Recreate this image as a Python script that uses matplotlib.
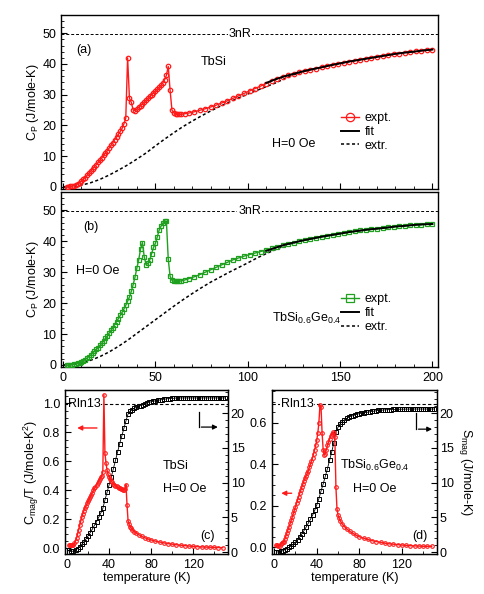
import matplotlib
matplotlib.use("Agg")
import matplotlib.pyplot as plt
from matplotlib.ticker import MultipleLocator

plt.rcParams["font.family"] = ["Liberation Sans", "DejaVu Sans"]
plt.rcParams["font.size"] = 9
plt.rcParams["mathtext.default"] = "regular"

# ---------------- data ----------------
# (a) TbSi, Cp vs T
T_a = [2, 3, 4, 5, 6, 7, 8, 9, 10, 11, 12, 13, 14, 15, 16, 17, 18, 19, 20, 21, 22, 23, 24, 25,
       26, 27, 28, 29, 30, 31, 32, 33, 34, 35, 36, 37, 38, 39, 40, 41, 42, 43, 44, 45, 46, 47,
       48, 49, 50, 51, 52, 53, 54, 55, 56, 57, 58, 59, 60, 61, 62, 63, 64, 66, 68, 71, 74, 77,
       80, 83, 86, 89, 92, 95, 98, 101, 104, 107, 110, 113, 116, 119, 122, 125, 128, 131, 134,
       137, 140, 143, 146, 149, 152, 155, 158, 161, 164, 167, 170, 173, 176, 179, 182, 185,
       188, 191, 194, 197, 200]
Cp_a = [0.0, 0.0, 0.1, 0.2, 0.4, 0.6, 0.9, 1.3, 1.8, 2.4, 3.0, 3.7, 4.4, 5.1, 5.8, 6.5, 7.2,
        7.9, 8.6, 9.4, 10.2, 11.0, 11.8, 12.6, 13.5, 14.4, 15.3, 16.2, 17.1, 18.0, 19.0, 20.5,
        22.3, 42.0, 28.8, 27.5, 25.0, 24.8, 25.3, 25.9, 26.4, 27.0, 27.6, 28.2, 28.8, 29.4,
        30.0, 30.6, 31.2, 31.8, 32.4, 33.0, 33.8, 34.8, 36.3, 39.2, 31.4, 25.0, 24.1, 23.8,
        23.6, 23.6, 23.6, 23.8, 24.0, 24.4, 24.9, 25.4, 26.0, 26.6, 27.3, 28.0, 28.8, 29.6,
        30.4, 31.2, 32.0, 32.8, 33.6, 34.5, 35.2, 35.8, 36.3, 36.8, 37.3, 37.7, 38.1, 38.5,
        38.9, 39.3, 39.7, 40.1, 40.4, 40.8, 41.1, 41.4, 41.7, 42.0, 42.3, 42.6, 42.9, 43.2,
        43.4, 43.7, 43.9, 44.1, 44.3, 44.5, 44.7]
Tfit = [110, 115, 120, 125, 130, 135, 140, 145, 150, 155, 160, 165, 170, 175, 180, 185, 190,
        195, 200]
fit_a = [33.8, 35.0, 36.0, 36.8, 37.6, 38.3, 38.9, 39.6, 40.2, 40.8, 41.3, 41.8, 42.3, 42.8,
         43.3, 43.7, 44.0, 44.4, 44.7]
Text = [0, 5, 10, 15, 20, 25, 30, 35, 40, 45, 50, 55, 60, 65, 70, 75, 80, 85, 90, 95, 100,
        105, 110, 115, 120, 125, 130, 135, 140, 145, 150, 155, 160, 165, 170, 175, 180, 185,
        190, 195, 200]
extr_a = [0.0, 0.1, 0.5, 1.3, 2.4, 3.8, 5.4, 7.1, 9.0, 11.0, 13.3, 15.5, 17.6, 19.6, 21.4,
          23.1, 24.7, 26.2, 27.6, 28.9, 30.2, 31.4, 32.6, 33.8, 35.2, 36.5, 37.5, 38.3, 38.9,
          39.6, 40.2, 40.8, 41.3, 41.8, 42.3, 42.8, 43.3, 43.7, 44.0, 44.4, 44.7]

# (b) TbSi0.6Ge0.4, Cp vs T
T_b = T_a
Cp_b = [0.0, 0.0, 0.1, 0.1, 0.2, 0.3, 0.5, 0.7, 1.0, 1.3, 1.7, 2.2, 2.7, 3.2, 3.8, 4.4, 5.0,
        5.6, 6.3, 7.0, 7.8, 8.6, 9.4, 10.3, 11.2, 12.1, 13.0, 14.0, 15.0, 16.0, 17.0, 18.1,
        19.3, 20.6, 22.0, 23.8, 26.0, 28.4, 31.3, 34.0, 37.5, 39.6, 35.0, 32.4, 32.9, 34.0,
        36.0, 38.0, 39.3, 41.3, 43.5, 44.8, 45.8, 46.6, 46.5, 34.2, 28.7, 27.4, 27.1, 27.0,
        27.0, 27.1, 27.2, 27.5, 27.9, 28.5, 29.2, 30.0, 30.8, 31.6, 32.4, 33.2, 34.0, 34.6,
        35.2, 35.7, 36.2, 36.7, 37.2, 37.7, 38.2, 38.7, 39.1, 39.6, 40.0, 40.4, 40.8, 41.1,
        41.5, 41.8, 42.1, 42.4, 42.7, 43.0, 43.2, 43.5, 43.7, 43.9, 44.1, 44.3, 44.5, 44.7,
        44.9, 45.0, 45.2, 45.3, 45.4, 45.5, 45.6]
fit_b = [36.9, 37.9, 38.9, 39.6, 40.3, 40.9, 41.5, 42.0, 42.5, 43.0, 43.4, 43.8, 44.1, 44.4,
         44.8, 45.0, 45.3, 45.5, 45.6]
extr_b = [0.0, 0.1, 0.6, 1.5, 2.7, 4.2, 6.0, 8.0, 10.2, 12.4, 14.6, 16.8, 19.0, 21.1, 23.1,
          25.0, 26.8, 28.4, 30.0, 31.5, 33.0, 34.6, 36.0, 37.3, 38.6, 39.5, 40.3, 40.9, 41.5,
          42.0, 42.5, 43.0, 43.4, 43.8, 44.1, 44.4, 44.8, 45.0, 45.3, 45.5, 45.6]

# (c) TbSi magnetic part
Tm = [2, 3, 4, 5, 6, 7, 8, 9, 10, 11, 12, 13, 14, 15, 16, 17, 18, 19, 20, 21, 22, 23, 24, 25,
      26, 27, 28, 29, 30, 31, 32, 33, 34, 35, 36, 37, 38, 39, 40, 41, 42, 43, 44, 45, 46, 47,
      48, 49, 50, 51, 52, 53, 54, 55, 56, 57, 58, 59, 60, 61, 62, 64, 66, 68, 71, 74, 77, 80,
      84, 88, 92, 96, 100, 104, 108, 112, 116, 120, 124, 128, 132, 136, 140, 144, 148]
CmT_c = [0.025, 0.025, 0.02, 0.02, 0.025, 0.035, 0.05, 0.07, 0.10, 0.13, 0.16, 0.19, 0.215,
         0.24, 0.26, 0.28, 0.295, 0.31, 0.325, 0.34, 0.355, 0.37, 0.385, 0.40, 0.415, 0.425,
         0.44, 0.45, 0.465, 0.475, 0.49, 0.50, 0.53, 1.06, 0.655, 0.59, 0.54, 0.51, 0.49,
         0.475, 0.465, 0.455, 0.447, 0.44, 0.433, 0.427, 0.421, 0.417, 0.413, 0.41, 0.407,
         0.405, 0.405, 0.41, 0.44, 0.30, 0.19, 0.165, 0.15, 0.14, 0.13, 0.115, 0.105, 0.095,
         0.083, 0.073, 0.065, 0.058, 0.050, 0.044, 0.038, 0.033, 0.029, 0.025, 0.022, 0.019,
         0.016, 0.014, 0.012, 0.010, 0.009, 0.008, 0.007, 0.006, 0.005]
Ts = [2, 4, 6, 8, 10, 12, 14, 16, 18, 20, 22, 24, 26, 28, 30, 32, 34, 36, 38, 40, 42, 44, 46,
      48, 50, 52, 54, 56, 58, 60, 62, 64, 66, 68, 70, 72, 74, 76, 78, 80, 82, 84, 86, 88, 90,
      92, 94, 96, 98, 100, 102, 104, 106, 108, 110, 112, 114, 116, 118, 120, 122, 124, 126,
      128, 130, 132, 134, 136, 138, 140, 142, 144, 146, 148, 150]
S_c = [0.05, 0.1, 0.15, 0.3, 0.5, 0.8, 1.1, 1.5, 1.9, 2.35, 2.8, 3.3, 3.85, 4.4, 5.0, 5.6, 6.3,
       7.5, 8.6, 9.7, 10.8, 12.0, 13.2, 14.4, 15.6, 16.7, 17.8, 18.9, 19.9, 20.3, 20.5, 20.7,
       20.85, 21.0, 21.1, 21.2, 21.35, 21.45, 21.55, 21.65, 21.7, 21.8, 21.85, 21.9, 21.95,
       22.0, 22.05, 22.1, 22.1, 22.15, 22.15, 22.2, 22.2, 22.2, 22.2, 22.2, 22.2, 22.2, 22.2,
       22.2, 22.2, 22.2, 22.2, 22.2, 22.2, 22.2, 22.2, 22.2, 22.2, 22.2, 22.2, 22.2, 22.2,
       22.2, 22.2]

# (d) TbSi0.6Ge0.4 magnetic part
CmT_d = [0.01, 0.01, 0.005, 0.008, 0.015, 0.02, 0.027, 0.025, 0.04, 0.055, 0.07, 0.085, 0.1,
         0.115, 0.13, 0.147, 0.163, 0.18, 0.196, 0.212, 0.228, 0.244, 0.26, 0.275, 0.29,
         0.305, 0.32, 0.333, 0.345, 0.356, 0.367, 0.385, 0.40, 0.415, 0.43, 0.45, 0.47, 0.49,
         0.515, 0.55, 0.60, 0.683, 0.675, 0.55, 0.47, 0.445, 0.45, 0.47, 0.49, 0.505, 0.52,
         0.535, 0.545, 0.553, 0.55, 0.53, 0.29, 0.185, 0.155, 0.14, 0.128, 0.112, 0.1, 0.089,
         0.077, 0.067, 0.058, 0.051, 0.044, 0.038, 0.032, 0.028, 0.024, 0.02, 0.017, 0.015,
         0.013, 0.011, 0.009, 0.008, 0.007, 0.006, 0.005, 0.005, 0.005]
S_d = [0.0, 0.05, 0.1, 0.2, 0.35, 0.5, 0.7, 0.9, 1.15, 1.45, 1.8, 2.2, 2.65, 3.1, 3.6, 4.15,
       4.7, 5.3, 6.0, 6.8, 7.7, 8.8, 9.8, 10.9, 12.0, 13.2, 14.4, 15.7, 17.3, 18.0, 18.5, 18.8,
       19.05, 19.25, 19.4, 19.55, 19.65, 19.75, 19.85, 19.95, 20.0, 20.05, 20.1, 20.15, 20.2,
       20.25, 20.3, 20.35, 20.4, 20.42, 20.45, 20.48, 20.5, 20.52, 20.53, 20.54, 20.55,
       20.56, 20.57, 20.58, 20.58, 20.59, 20.59, 20.6, 20.6, 20.6, 20.6, 20.6, 20.6, 20.6,
       20.6, 20.6, 20.6, 20.6, 20.6]

three_nR = 49.9
R_ln13 = 21.3

RED = "#ff1a1a"
GREEN = "#1fa01f"

fig = plt.figure(figsize=(4.85, 5.94), dpi=100)
ax_a = fig.add_axes([0.126, 0.682, 0.777, 0.293])
ax_b = fig.add_axes([0.126, 0.382, 0.777, 0.295])
ax_c = fig.add_axes([0.134, 0.067, 0.336, 0.276])
ax_d = fig.add_axes([0.561, 0.067, 0.340, 0.276])


def style(ax):
    for s in ax.spines.values():
        s.set_linewidth(1.0)
    ax.tick_params(which="both", direction="in", top=False, right=False)
    ax.tick_params(which="major", length=4, width=0.8)
    ax.tick_params(which="minor", length=2, width=0.6)


# ---- panels (a) and (b) ----
for ax, Cp, fit, extr, col, mk in [(ax_a, Cp_a, fit_a, extr_a, RED, "o"),
                                   (ax_b, Cp_b, fit_b, extr_b, GREEN, "s")]:
    style(ax)
    ax.axhline(three_nR, color="black", ls=(0, (3, 2)), lw=0.7)
    ax.plot(Text, extr, color="black", ls=(0, (2, 1.6)), lw=1.1, label="extr.", zorder=2)
    ax.plot(T_a, Cp, color=col, lw=1.0, marker=mk, ms=3.2, mfc="none", mew=0.9,
            label="expt.", zorder=3)
    ax.plot(Tfit, fit, color="black", lw=1.4, label="fit", zorder=4)
    ax.set_xlim(-1, 203)
    ax.set_ylim(-0.7, 56)
    ax.xaxis.set_major_locator(MultipleLocator(50))
    ax.xaxis.set_minor_locator(MultipleLocator(10))
    ax.yaxis.set_major_locator(MultipleLocator(10))
    ax.yaxis.set_minor_locator(MultipleLocator(2))
    ax.set_ylabel("C$_P$ (J/mole-K)", labelpad=1)

ax_a.tick_params(labelbottom=False)
ax_a.text(96, three_nR, "3nR", ha="center", va="center",
          bbox=dict(facecolor="white", edgecolor="none", pad=0.5))
ax_b.text(101, three_nR, "3nR", ha="center", va="center",
          bbox=dict(facecolor="white", edgecolor="none", pad=0.5))

ax_a.text(0.04, 0.78, "(a)", transform=ax_a.transAxes)
ax_a.text(0.37, 0.71, "TbSi", transform=ax_a.transAxes)
ax_a.text(0.56, 0.24, "H=0 Oe", transform=ax_a.transAxes)
ax_b.text(0.06, 0.78, "(b)", transform=ax_b.transAxes)
ax_b.text(0.04, 0.53, "H=0 Oe", transform=ax_b.transAxes)
ax_b.text(0.56, 0.26, "TbSi$_{0.6}$Ge$_{0.4}$", transform=ax_b.transAxes)

for ax, anchor in [(ax_a, (0.73, 0.47)), (ax_b, (0.73, 0.45))]:
    h, l = ax.get_legend_handles_labels()
    idx = [l.index("expt."), l.index("fit"), l.index("extr.")]
    leg = ax.legend([h[i] for i in idx], [l[i] for i in idx], loc="upper left",
                    bbox_to_anchor=anchor, frameon=False, handlelength=1.4,
                    handletextpad=0.5, labelspacing=0.15, fontsize=9, borderaxespad=0)
    leg.legend_handles[0].set_markersize(6)

# ---- panels (c) and (d) ----
twins = []
for ax, CmT, S, ylim, tx in [(ax_c, CmT_c, S_c, (-0.04, 1.09), 1),
                             (ax_d, CmT_d, S_d, (-0.033, 0.755), 6)]:
    style(ax)
    ax.plot(Tm, CmT, color=RED, lw=1.0, marker="o", ms=2.6, mfc="none", mew=0.8, zorder=3)
    ax.set_xlim(-2, 153)
    ax.set_ylim(*ylim)
    ax.xaxis.set_major_locator(MultipleLocator(40))
    ax.xaxis.set_minor_locator(MultipleLocator(20))
    ax.yaxis.set_major_locator(MultipleLocator(0.2))
    ax.yaxis.set_minor_locator(MultipleLocator(0.05))
    ax.set_xlabel("temperature (K)", labelpad=1)
    ax2 = ax.twinx()
    ax2.plot(Ts, S, color="black", lw=0.6, marker="s", ms=2.6, mfc="none", mew=0.7, zorder=2)
    ax2.axhline(R_ln13, color="black", ls=(0, (3, 2)), lw=0.8)
    ax2.set_ylim(-0.3, 23.3)
    ax2.yaxis.set_major_locator(MultipleLocator(5))
    ax2.yaxis.set_minor_locator(MultipleLocator(1))
    ax2.tick_params(which="both", direction="in", pad=2)
    ax2.tick_params(which="major", length=4, width=0.8)
    ax2.tick_params(which="minor", length=2, width=0.6)
    ax2.text(tx, R_ln13, "Rln13", ha="left", va="center",
             bbox=dict(facecolor="white", edgecolor="none", pad=0.3))
    ax.set_zorder(ax2.get_zorder() + 1)
    ax.patch.set_visible(False)
    twins.append(ax2)
ax2c, ax2d = twins

ax_c.set_ylabel("C$_{mag}$/T (J/mole-K$^2$)", labelpad=1)
ax2d.set_ylabel("S$_{mag}$ (J/mole-K)", rotation=270, va="bottom", labelpad=2)

ax_c.text(0.6, 0.52, "TbSi", transform=ax_c.transAxes)
ax_c.text(0.6, 0.38, "H=0 Oe", transform=ax_c.transAxes)
ax_c.text(0.83, 0.09, "(c)", transform=ax_c.transAxes)
ax_d.text(0.62, 0.52, "TbSi$_{0.6}$Ge$_{0.4}$", transform=ax_d.transAxes, ha="center")
ax_d.text(0.62, 0.38, "H=0 Oe", transform=ax_d.transAxes, ha="center")
ax_d.text(0.85, 0.09, "(d)", transform=ax_d.transAxes)

# axis pointer arrows
ax_c.annotate("", xy=(7, 0.83), xytext=(31, 0.83),
              arrowprops=dict(arrowstyle="-|>", color=RED, lw=1.0, mutation_scale=7))
ax2c.plot([125, 125], [20.1, 18.0], color="black", lw=0.9)
ax2c.annotate("", xy=(146, 18.0), xytext=(125, 18.0),
              arrowprops=dict(arrowstyle="-|>", color="black", lw=0.9, mutation_scale=7))
ax_d.annotate("", xy=(4, 0.26), xytext=(19, 0.26),
              arrowprops=dict(arrowstyle="-|>", color=RED, lw=1.0, mutation_scale=7))
ax2d.plot([133, 133], [20.0, 17.7], color="black", lw=0.9)
ax2d.annotate("", xy=(151, 17.7), xytext=(133, 17.7),
              arrowprops=dict(arrowstyle="-|>", color="black", lw=0.9, mutation_scale=7))

fig.savefig("out.png", dpi=100)
